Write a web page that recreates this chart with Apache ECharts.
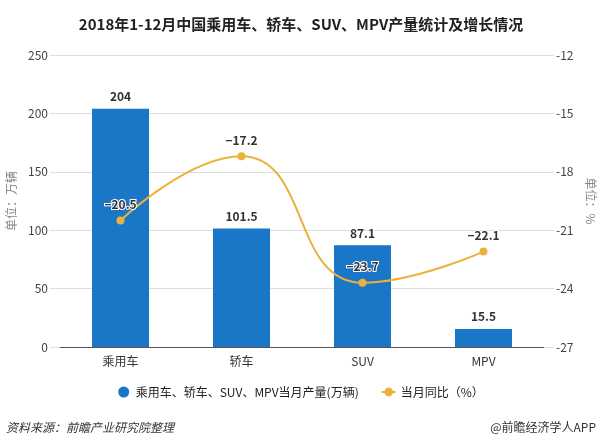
<!DOCTYPE html>
<html><head><meta charset="utf-8">
<script src="https://cdn.jsdelivr.net/npm/echarts@6/dist/echarts.min.js"></script>
<style>html,body{margin:0;padding:0;background:#fff}#c{width:602px;height:446px}</style>
</head><body><div id="c"></div>
<script>
const categories = ['乘用车', '轿车', 'SUV', 'MPV'];
const production = [204, 101.5, 87.1, 15.5];
const yoy = [-20.5, -17.2, -23.7, -22.1];
const leftTicks = {min: 0, max: 250, interval: 50};
const rightTicks = {min: -27, max: -12, interval: 3};

const chart = echarts.init(document.getElementById('c'), null, {renderer: 'canvas'});
const font = '"Microsoft YaHei","Noto Sans CJK SC",sans-serif';
chart.setOption({
  animation: false,
  textStyle: {fontFamily: font},
  title: {
    text: '2018年1-12月中国乘用车、轿车、SUV、MPV产量统计及增长情况',
    left: 'center', top: 12,
    textStyle: {fontSize: 15, fontWeight: 'bold', color: '#222', fontFamily: font}
  },
  graphic: [
    {type: 'text', left: 6, top: 421, style: {text: '资料来源：前瞻产业研究院整理', fill: '#333', font: 'italic 12px ' + font}},
    {type: 'text', right: 6, top: 421, style: {text: '@前瞻经济学人APP', fill: '#333', font: '12px ' + font}}
  ],
  legend: {
    bottom: 43, left: 'center', itemGap: 22, itemWidth: 14, itemHeight: 11,
    textStyle: {fontSize: 12, color: '#222'},
    data: [
      {name: '乘用车、轿车、SUV、MPV当月产量(万辆)', icon: 'circle'},
      {name: '当月同比（%）'}
    ]
  },
  grid: {left: 60, right: 58, top: 55, bottom: 99, outerBoundsMode: 'none', containLabel: false},
  xAxis: {
    type: 'category', data: categories,
    axisLine: {lineStyle: {color: '#555'}},
    axisTick: {alignWithLabel: true, lineStyle: {color: '#555'}},
    axisLabel: {color: '#333', fontSize: 12, margin: 8}
  },
  yAxis: [
    {
      type: 'value', min: leftTicks.min, max: leftTicks.max, interval: leftTicks.interval,
      name: '单位：万辆', nameLocation: 'middle', nameGap: 41, nameRotate: 90,
      nameTextStyle: {color: '#888', fontSize: 12},
      axisLine: {show: false},
      axisTick: {show: true, length: 10, lineStyle: {color: '#ddd'}},
      axisLabel: {color: '#444', fontSize: 12, margin: 12},
      splitLine: {lineStyle: {color: '#ddd'}}
    },
    {
      type: 'value', min: rightTicks.min, max: rightTicks.max, interval: rightTicks.interval,
      name: '单位：%', nameLocation: 'middle', nameGap: 38, nameRotate: -90,
      nameTextStyle: {color: '#888', fontSize: 12},
      axisLine: {show: false},
      axisTick: {show: true, length: 10, lineStyle: {color: '#ddd'}},
      axisLabel: {color: '#444', fontSize: 12, margin: 12},
      splitLine: {show: false}
    }
  ],
  series: [
    {
      name: '乘用车、轿车、SUV、MPV当月产量(万辆)', type: 'bar', data: production,
      barWidth: 57, itemStyle: {color: '#1a76c6'},
      label: {show: true, position: 'top', color: '#333', fontWeight: 'bold', fontSize: 12, distance: 6}
    },
    {
      name: '当月同比（%）', type: 'line', yAxisIndex: 1, data: yoy, smooth: true,
      symbol: 'circle', symbolSize: 8,
      itemStyle: {color: '#ebb13a'}, lineStyle: {color: '#ebb13a', width: 2},
      label: {show: true, position: 'top', color: '#333', fontWeight: 'bold', fontSize: 12,
        textBorderColor: '#fff', textBorderWidth: 2, distance: 6,
        formatter: p => String(p.value).replace('-', '−')}
    }
  ]
});
</script></body></html>
